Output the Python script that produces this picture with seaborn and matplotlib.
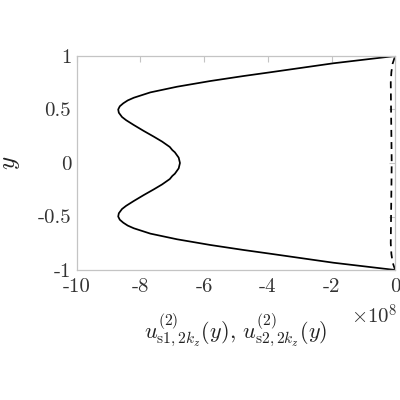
import numpy as np
import pandas as pd
import matplotlib
matplotlib.use("Agg")
import matplotlib.pyplot as plt
import matplotlib.ticker as mticker
import seaborn as sns

# solid curve, x in units of 1e8
y_s1 = [-1.0, -0.932, -0.848, -0.813, -0.766, -0.713, -0.66, -0.61, -0.585, -0.558, -0.53, -0.5, -0.47,
        -0.43, -0.4, -0.355, -0.3, -0.246, -0.2, -0.15, -0.121, -0.1, -0.05, 0.0,
        0.05, 0.1, 0.121, 0.15, 0.2, 0.246, 0.3, 0.355, 0.4, 0.43, 0.47, 0.5, 0.53, 0.558, 0.585, 0.61,
        0.66, 0.713, 0.766, 0.813, 0.848, 0.932, 1.0]
u_s1 = [0.0, -1.94, -3.92, -4.76, -5.81, -6.85, -7.69, -8.21, -8.40, -8.54, -8.65, -8.70, -8.68,
        -8.58, -8.45, -8.21, -7.9, -7.58, -7.32, -7.08, -7.0, -6.92, -6.8, -6.76,
        -6.8, -6.92, -7.0, -7.08, -7.32, -7.58, -7.9, -8.21, -8.45, -8.58, -8.68, -8.70, -8.65, -8.54, -8.40, -8.21,
        -7.69, -6.85, -5.81, -4.76, -3.92, -1.94, 0.0]

# dashed curve
y_s2 = [-1.0, -0.93, -0.85, -0.75, -0.5, -0.25, 0.0, 0.25, 0.5, 0.75, 0.85, 0.93, 1.0]
u_s2 = [0.0, -0.08, -0.12, -0.14, -0.13, -0.12, -0.11, -0.12, -0.13, -0.14, -0.12, -0.08, 0.0]

scale = 1e8

sns.set_style("white")
plt.rcParams["font.family"] = ["cmr10", "DejaVu Serif"]
plt.rcParams["mathtext.fontset"] = "cm"
plt.rcParams["axes.unicode_minus"] = False
plt.rcParams["axes.formatter.use_mathtext"] = True

df1 = pd.DataFrame({"u": np.array(u_s1) * scale, "y": y_s1})
df2 = pd.DataFrame({"u": np.array(u_s2) * scale, "y": y_s2})

fig = plt.figure(figsize=(4, 4), dpi=100)
ax = fig.add_axes([0.192, 0.325, 0.796, 0.535])
sns.lineplot(data=df1, x="u", y="y", sort=False, estimator=None, color="black", lw=1.25, ax=ax)
sns.lineplot(data=df2, x="u", y="y", sort=False, estimator=None, color="black", lw=1.25,
             linestyle=(0, (4, 3)), ax=ax)

ax.set_xlim(-10e8, 0)
ax.set_ylim(-1, 1)
ax.set_xticks(np.arange(-10, 1, 2) * scale)
ax.set_yticks([-1, -0.5, 0, 0.5, 1])
ax.yaxis.set_major_formatter(mticker.FuncFormatter(lambda v, p: f"{v:g}"))
ax.xaxis.set_major_formatter(mticker.FuncFormatter(lambda v, p: f"{v / scale:g}"))
ax.text(1.008, -0.215, r"$\times 10^{8}$", transform=ax.transAxes, ha="right", va="center",
        fontsize=15, color="#333333")

for sp in ax.spines.values():
    sp.set_visible(True)
    sp.set_color("#c4c4c4")
    sp.set_linewidth(0.9)
ax.tick_params(direction="in", length=4, width=0.8, color="#c4c4c4", labelsize=15,
               labelcolor="#333333", top=True, right=True, pad=4)
ax.tick_params(axis="x", pad=6)

ax.set_xlabel(r"$u^{(2)}_{\mathrm{s1},2k_z}(y),\, u^{(2)}_{\mathrm{s2},2k_z}(y)$", fontsize=16,
              labelpad=11, color="#222222")
ax.set_ylabel(r"$y$", fontsize=18, labelpad=11, color="#222222")

fig.savefig("out.png", dpi=100)
